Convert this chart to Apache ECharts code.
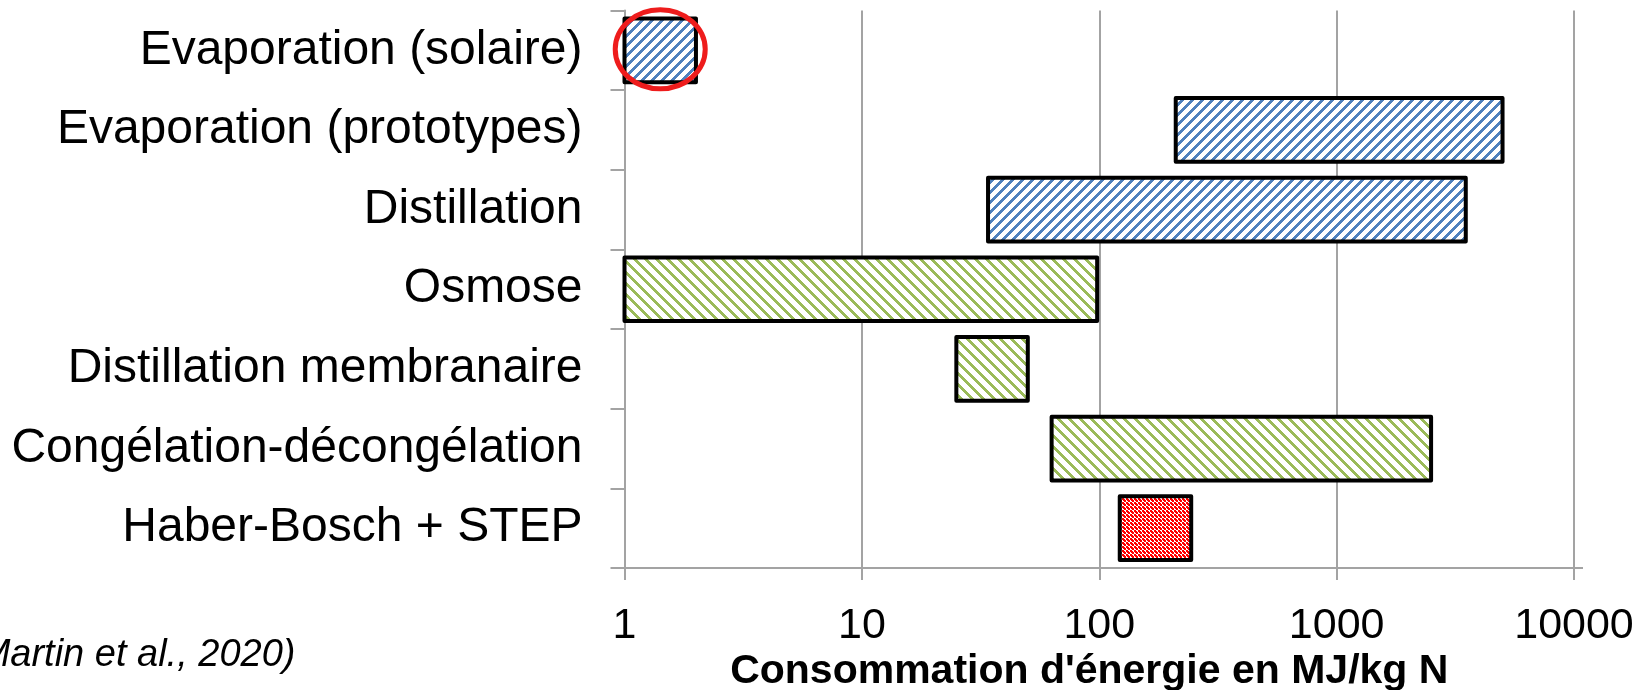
<!DOCTYPE html>
<html>
<head>
<meta charset="utf-8">
<script src="https://cdn.jsdelivr.net/npm/echarts@6/dist/echarts.min.js"></script>
<style>
  html, body { margin: 0; padding: 0; background: #ffffff; }
  #chart { width: 1649px; height: 690px; }
</style>
</head>
<body>
<div id="chart"></div>
<script>
// Energy consumption ranges (MJ/kg N) per nitrogen recovery process
const categories = [
  'Evaporation (solaire)',
  'Evaporation (prototypes)',
  'Distillation',
  'Osmose',
  'Distillation membranaire',
  'Congélation-décongélation',
  'Haber-Bosch + STEP'
];
const energyMin = [1, 210, 34, 1, 25, 63, 122];
const energyMax = [2, 5000, 3500, 98, 50, 2500, 244];
const families = ['evaporation', 'evaporation', 'evaporation', 'membrane', 'membrane', 'membrane', 'reference'];
const highlighted = 'Evaporation (solaire)';
const xTitle = "Consommation d'énergie en MJ/kg N";
const sourceNote = '(Martin et al., 2020)';

const FONT = '"Liberation Sans", Arial, Helvetica, sans-serif';
const GRID_GREY = '#a3a3a3';

// Hatch tiles drawn pixel by pixel so the stripes stay crisp
function stripeTile(color, period, thick, upward) {
  const c = document.createElement('canvas');
  c.width = period; c.height = period;
  const g = c.getContext('2d');
  g.fillStyle = '#ffffff';
  g.fillRect(0, 0, period, period);
  g.fillStyle = color;
  for (let y = 0; y < period; y++) {
    for (let x = 0; x < period; x++) {
      const k = upward ? (x + y) % period : (((x - y) % period) + period) % period;
      if (k < thick) g.fillRect(x, y, 1, 1);
    }
  }
  return { image: c, repeat: 'repeat' };
}
// Fine red checker with a little extra red in every white cell
function dottedTile(color) {
  const c = document.createElement('canvas');
  c.width = 4; c.height = 4;
  const g = c.getContext('2d');
  g.fillStyle = '#ffffff';
  g.fillRect(0, 0, 4, 4);
  g.fillStyle = color;
  g.fillRect(0, 0, 2, 2);
  g.fillRect(2, 2, 2, 2);
  g.fillRect(3, 0, 1, 1);
  g.fillRect(0, 3, 1, 1);
  return { image: c, repeat: 'repeat' };
}

const fills = {
  evaporation: stripeTile('#4f81bd', 10, 4, true),
  membrane: stripeTile('#9bbb59', 11, 4, false),
  reference: dottedTile('#ff0000')
};

const chart = echarts.init(document.getElementById('chart'), null, { renderer: 'canvas' });

const rangeData = categories.map((c, i) => [i, energyMin[i], energyMax[i]]);

chart.setOption({
  backgroundColor: '#ffffff',
  animation: false,
  grid: {
    left: 624.5, right: 75, top: 10.5, bottom: 122,
    containLabel: false,
    outerBoundsMode: 'none'
  },
  xAxis: {
    type: 'log',
    logBase: 10,
    min: 1,
    max: 10000,
    name: xTitle,
    nameLocation: 'middle',
    nameGap: 83,
    nameMoveOverlap: false,
    nameTextStyle: {
      fontSize: 41, fontWeight: 'bold', color: '#000', fontFamily: FONT,
      padding: [0, 20, 0, 0]
    },
    axisLine: { show: true, lineStyle: { color: GRID_GREY, width: 2 } },
    axisTick: { show: true, length: 12, lineStyle: { color: GRID_GREY, width: 2 } },
    minorTick: { show: false },
    splitLine: { show: true, lineStyle: { color: GRID_GREY, width: 2 } },
    axisLabel: {
      fontSize: 43, color: '#000', fontFamily: FONT, margin: 37,
      formatter: v => String(Math.round(v))
    }
  },
  yAxis: {
    type: 'category',
    data: categories,
    inverse: true,
    boundaryGap: true,
    axisLine: { show: true, lineStyle: { color: GRID_GREY, width: 2 } },
    axisTick: { show: true, length: 14, interval: 0, lineStyle: { color: GRID_GREY, width: 2 } },
    splitLine: { show: false },
    axisLabel: {
      fontSize: 48, color: '#000', fontFamily: FONT, margin: 42, interval: 0,
      padding: [7, 0, 0, 0]
    }
  },
  series: [{
    type: 'custom',
    encode: { x: [1, 2], y: 0 },
    data: rangeData,
    renderItem: function (params, api) {
      const cat = api.value(0);
      const start = api.coord([api.value(1), cat]);
      const end = api.coord([api.value(2), cat]);
      const band = api.size([1, 1])[1];
      const h = band * 0.8;
      return {
        type: 'rect',
        shape: { x: start[0], y: start[1] - h / 2, width: end[0] - start[0], height: h },
        style: {
          fill: fills[families[params.dataIndex]],
          stroke: '#000000',
          lineWidth: 4,
          lineJoin: 'round'
        }
      };
    }
  }]
});

// Annotation: red ellipse around the highlighted process, plus the source note
const hi = categories.indexOf(highlighted);
const centre = chart.convertToPixel({ gridIndex: 0 },
  [Math.sqrt(energyMin[hi] * energyMax[hi]), hi]);
const axisEnd = chart.convertToPixel({ gridIndex: 0 }, [10000, categories.length - 1]);
const gridBottom = 690 - 122;

chart.setOption({
  graphic: [
    {
      type: 'ellipse',
      shape: { cx: centre[0], cy: centre[1] - 1, rx: 45, ry: 39.5 },
      style: { fill: 'none', stroke: '#ee1c1c', lineWidth: 5 },
      z: 100
    },
    {
      type: 'line',
      shape: { x1: axisEnd[0], y1: gridBottom, x2: axisEnd[0] + 9, y2: gridBottom },
      style: { stroke: GRID_GREY, lineWidth: 2 },
      z: 1
    },
    {
      type: 'text',
      x: -34,
      y: 655,
      style: {
        text: sourceNote,
        fontSize: 38,
        fontStyle: 'italic',
        fontFamily: FONT,
        fill: '#000',
        verticalAlign: 'middle',
        align: 'left'
      }
    }
  ]
});
</script>
</body>
</html>
